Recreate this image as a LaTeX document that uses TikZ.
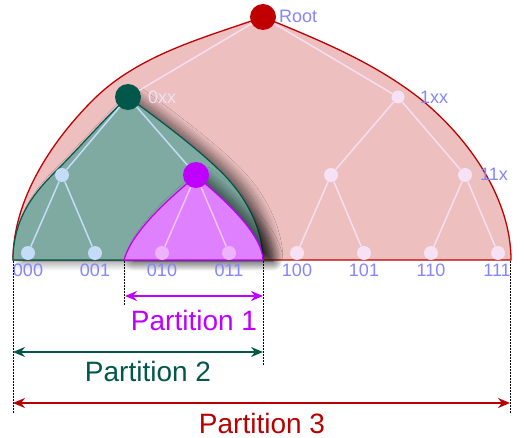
\documentclass[tikz,border=0pt]{standalone}
\usepackage{fontspec}
\setmainfont{Liberation Sans}
\usetikzlibrary{arrows.meta,shadows.blur}
\definecolor{rootred}{HTML}{C00000}
\definecolor{pinkfill}{HTML}{EDBFBF}
\definecolor{teal0}{HTML}{00574A}
\definecolor{tealfill}{HTML}{7FAAA2}
\definecolor{mag0}{HTML}{BF00FF}
\definecolor{magfill}{HTML}{DF80FF}
\definecolor{lblblue}{HTML}{8585FF}
\definecolor{lbllight}{HTML}{EEE0F4}
\definecolor{pinkedge}{HTML}{F6DEF2}
\definecolor{blueedge}{HTML}{C4DCF8}
\definecolor{magedge}{HTML}{F2C4FC}
\definecolor{pinknode}{HTML}{F6E2F4}
\definecolor{bluenode}{HTML}{C4DCF8}
\definecolor{magnode}{HTML}{EDB4FC}
\definecolor{partred}{HTML}{B80000}
\begin{document}
\begin{tikzpicture}[x=1pt,y=-1pt,
  bignode/.style={circle, minimum size=26pt, inner sep=0pt},
  smallnode/.style={circle, minimum size=14pt, inner sep=0pt},
  lbl/.style={text=lblblue, font=\fontsize{18}{20}\selectfont, inner sep=0pt},
  treeedge/.style={line width=1.5pt},
  dimline/.style={dash pattern=on 1.5pt off 1.5pt, line width=0.9pt, black},
  partarrow/.style={{Stealth[length=12pt,width=10pt]}-{Stealth[length=12pt,width=10pt]}, line width=1.5pt},
  parttext/.style={font=\fontsize{28}{30}\selectfont, inner sep=0pt},
  myshadow/.style={blur shadow={shadow xshift=10pt, shadow yshift=-1pt, shadow blur radius=10pt, shadow blur steps=14, shadow opacity=60}}
]
\useasboundingbox (0,0) rectangle (524,438);

% partition 3 (red) region
\draw[rootred, fill=pinkfill, line width=1.3pt, line join=round]
  (13,260) .. controls (13,200) and (51,142) .. (93,100)
  .. controls (138,55) and (203,38) .. (263,17)
  .. controls (319,40) and (376,63) .. (423,101)
  .. controls (471,141) and (511,200) .. (511,260)
  -- cycle;

% partition 2 (green) region
\draw[teal0, fill=tealfill, line width=1.2pt, line join=round, myshadow]
  (13,260) .. controls (13,215) and (38,189) .. (57,170)
  .. controls (81,146) and (104,119) .. (128,97)
  .. controls (158,119) and (217,162) .. (237,190)
  .. controls (252,210) and (263,235) .. (263,260)
  -- cycle;

% partition 1 (magenta) region
\draw[mag0, fill=magfill, line width=1.2pt, line join=round, myshadow]
  (124,260) .. controls (132,232) and (166,201) .. (196,176)
  .. controls (218,194) and (262,232) .. (263,260)
  -- cycle;

% tree nodes
\node[bignode, fill=rootred] (root) at (263,17) {};
\node[bignode, fill=teal0] (n0) at (128,97) {};
\node[smallnode, minimum size=13pt, fill=pinknode] (n1) at (398,97) {};
\node[smallnode, fill=bluenode] (n00) at (62,175) {};
\node[bignode, fill=mag0] (n01) at (196,175) {};
\node[smallnode, fill=pinknode] (n10) at (331,175) {};
\node[smallnode, fill=pinknode] (n11) at (465,175) {};
\node[smallnode, fill=bluenode] (l000) at (28,253) {};
\node[smallnode, fill=bluenode] (l001) at (95,253) {};
\node[smallnode, fill=magnode] (l010) at (162,253) {};
\node[smallnode, fill=magnode] (l011) at (229,253) {};
\node[smallnode, fill=pinknode] (l100) at (297,253) {};
\node[smallnode, fill=pinknode] (l101) at (364,253) {};
\node[smallnode, fill=pinknode] (l110) at (431,253) {};
\node[smallnode, fill=pinknode] (l111) at (498,253) {};

% tree edges
\draw[treeedge, pinkedge] (root) -- (n0);
\draw[treeedge, pinkedge] (root) -- (n1);
\draw[treeedge, blueedge] (n0) -- (n00);
\draw[treeedge, blueedge] (n0) -- (n01);
\draw[treeedge, pinkedge] (n1) -- (n10);
\draw[treeedge, pinkedge] (n1) -- (n11);
\draw[treeedge, blueedge] (n00) -- (l000);
\draw[treeedge, blueedge] (n00) -- (l001);
\draw[treeedge, magedge] (n01) -- (l010);
\draw[treeedge, magedge] (n01) -- (l011);
\draw[treeedge, pinkedge] (n10) -- (l100);
\draw[treeedge, pinkedge] (n10) -- (l101);
\draw[treeedge, pinkedge] (n11) -- (l110);
\draw[treeedge, pinkedge] (n11) -- (l111);

% node labels
\node[lbl, anchor=west] (tRoot) at (279,16) {Root};
\node[lbl, anchor=west, text=lbllight] (t0xx) at (148,97) {0xx};
\node[lbl, anchor=west] (t1xx) at (420,97) {1xx};
\node[lbl, anchor=west] (t11x) at (480,174) {11x};
\node[lbl] (t000) at (28,270) {000};
\node[lbl] (t001) at (95,270) {001};
\node[lbl] (t010) at (162,270) {010};
\node[lbl] (t011) at (229,270) {011};
\node[lbl] (t100) at (297,270) {100};
\node[lbl] (t101) at (364,270) {101};
\node[lbl] (t110) at (431,270) {110};
\node[lbl] (t111) at (497,270) {111};

% dotted guide lines
\coordinate (g1t) at (13,261);  \coordinate (g1b) at (13,414);
\coordinate (g2t) at (124,261); \coordinate (g2b) at (124,306);
\coordinate (g3t) at (263,261); \coordinate (g3b) at (263,365);
\coordinate (g4t) at (510,261); \coordinate (g4b) at (510,414);
\draw[dimline] (g1t) -- (g1b);
\draw[dimline] (g2t) -- (g2b);
\draw[dimline] (g3t) -- (g3b);
\draw[dimline] (g4t) -- (g4b);

% partition arrows
\coordinate (p1l) at (125,296); \coordinate (p1r) at (263,296);
\coordinate (p2l) at (13,352);  \coordinate (p2r) at (263,352);
\coordinate (p3l) at (13,403);  \coordinate (p3r) at (510,403);
\draw[partarrow, mag0] (p1l) -- (p1r);
\draw[partarrow, teal0] (p2l) -- (p2r);
\draw[partarrow, partred] (p3l) -- (p3r);

\node[parttext, text=mag0] (P1) at (194,320) {Partition 1};
\node[parttext, text=teal0] (P2) at (148,371) {Partition 2};
\node[parttext, text=partred] (P3) at (262,423) {Partition 3};
\end{tikzpicture}
\end{document}
